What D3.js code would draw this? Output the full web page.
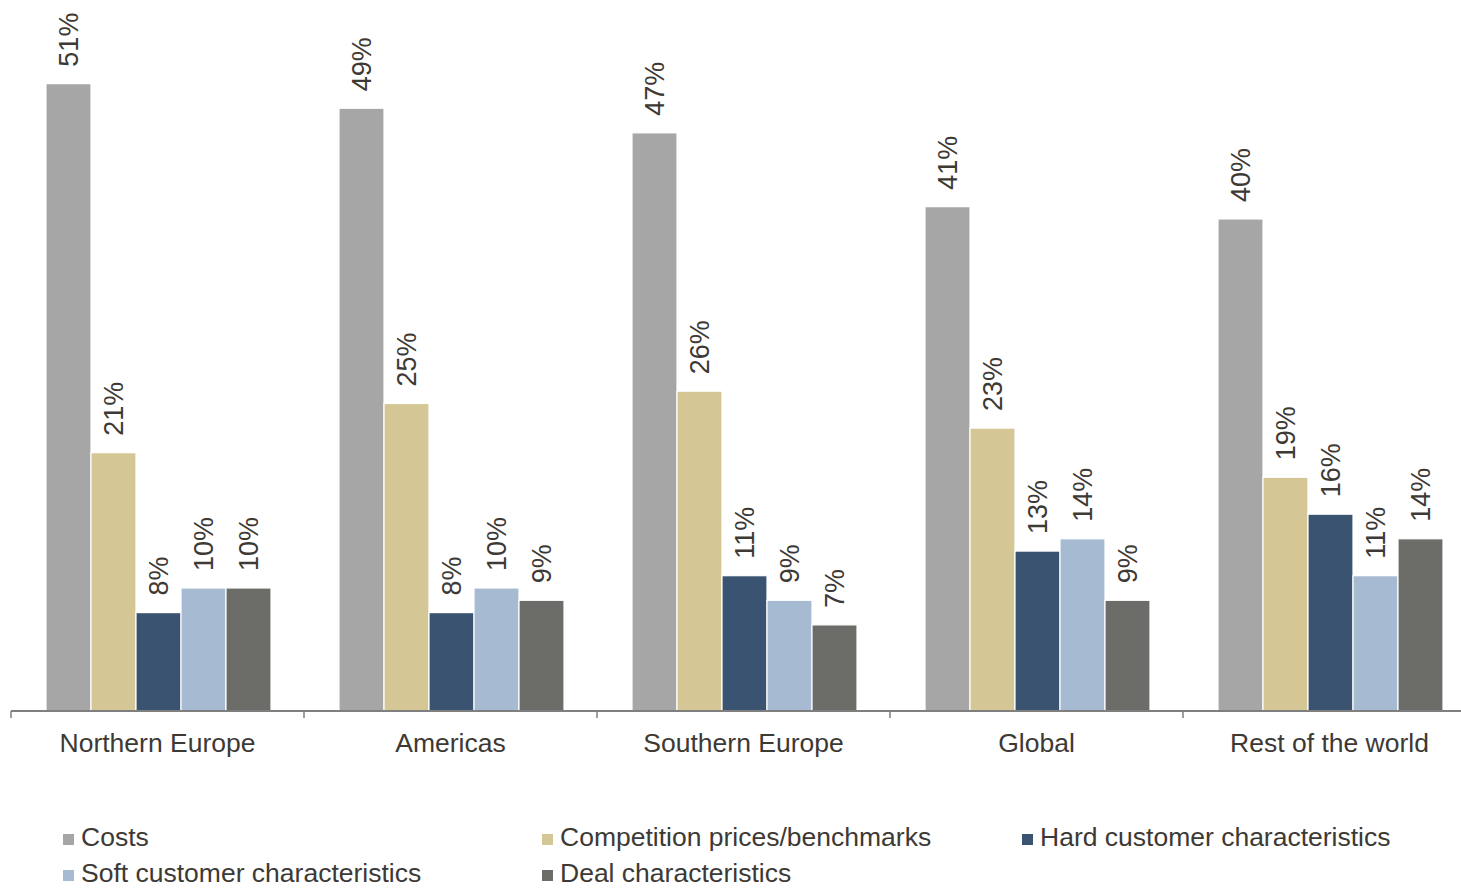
<!DOCTYPE html>
<html>
<head>
<meta charset="utf-8">
<script src="https://cdn.jsdelivr.net/npm/d3@7"></script>
<style>
  html, body { margin: 0; padding: 0; background: #ffffff; }
  svg { display: block; }
  text { font-family: "Liberation Sans", Arial, Helvetica, sans-serif; fill: #3d3935; }
</style>
</head>
<body>
<svg id="chart" width="1461" height="888"></svg>
<script>
// Regions along the x axis
const regions = ["Northern Europe", "Americas", "Southern Europe", "Global", "Rest of the world"];

// Pricing factors (one bar per factor inside each region)
const factors = ["Costs", "Competition prices/benchmarks", "Hard customer characteristics",
                 "Soft customer characteristics", "Deal characteristics"];

// Share of respondents (%) per factor, in region order
const costs       = [51, 49, 47, 41, 40];
const competition = [21, 25, 26, 23, 19];
const hardCust    = [8, 8, 11, 13, 16];
const softCust    = [10, 10, 9, 14, 11];
const deal        = [10, 9, 7, 9, 14];

const seriesValues = [costs, competition, hardCust, softCust, deal];
const colors = ["#a6a6a6", "#d4c795", "#3a5371", "#a6bad2", "#6c6d68"];

const svg = d3.select("#chart");

const baseline = 711;
const y = d3.scaleLinear().domain([0, 57.8]).range([baseline, 0]);

const x0 = d3.scaleBand().domain(regions).range([11, 1476]).padding(0);
const x1 = d3.scaleBand().domain(factors).range([35, 260]).padding(0);

const colorScale = d3.scaleOrdinal().domain(factors).range(colors);

const rows = regions.map((r, i) => ({
  region: r,
  bars: factors.map((f, j) => ({ factor: f, value: seriesValues[j][i] }))
}));

const groups = svg.append("g").selectAll("g.region")
  .data(rows)
  .join("g")
  .attr("class", "region")
  .attr("transform", d => `translate(${x0(d.region)},0)`);

groups.selectAll("rect")
  .data(d => d.bars)
  .join("rect")
  .attr("x", d => x1(d.factor))
  .attr("y", d => y(d.value))
  .attr("width", x1.bandwidth())
  .attr("height", d => baseline - y(d.value))
  .attr("fill", d => colorScale(d.factor))
  .attr("stroke", "#ffffff")
  .attr("stroke-width", 1.2);

// Rotated value labels above each bar
groups.selectAll("text.value")
  .data(d => d.bars)
  .join("text")
  .attr("class", "value")
  .attr("transform", d => `translate(${x1(d.factor) + x1.bandwidth() / 2},${y(d.value) - 17}) rotate(-90)`)
  .attr("dy", "0.36em")
  .attr("text-anchor", "start")
  .style("font-size", "27px")
  .text(d => d.value + "%");

// Category axis
const axisG = svg.append("g").attr("transform", `translate(0,${baseline})`);
axisG.append("line")
  .attr("x1", 11).attr("x2", 1476)
  .attr("stroke", "#7f7f7f").attr("stroke-width", 2);
axisG.selectAll("line.tick")
  .data(regions)
  .join("line")
  .attr("class", "tick")
  .attr("x1", d => x0(d)).attr("x2", d => x0(d))
  .attr("y1", 0).attr("y2", 7)
  .attr("stroke", "#7f7f7f").attr("stroke-width", 1.5);
axisG.selectAll("text.cat")
  .data(regions)
  .join("text")
  .attr("class", "cat")
  .attr("x", d => x0(d) + x0.bandwidth() / 2)
  .attr("y", 41)
  .attr("text-anchor", "middle")
  .style("font-size", "26.5px")
  .text(d => d);

// Legend
const legendPos = [[63, 846], [542, 846], [1022, 846], [63, 882], [542, 882]];
const legend = svg.append("g").selectAll("g.item")
  .data(factors)
  .join("g")
  .attr("class", "item")
  .attr("transform", (d, i) => `translate(${legendPos[i][0]},${legendPos[i][1]})`);
legend.append("rect")
  .attr("x", 0).attr("y", -12)
  .attr("width", 11).attr("height", 11)
  .attr("fill", d => colorScale(d));
legend.append("text")
  .attr("x", 18).attr("y", 0)
  .style("font-size", "26.5px")
  .text(d => d);
</script>
</body>
</html>
